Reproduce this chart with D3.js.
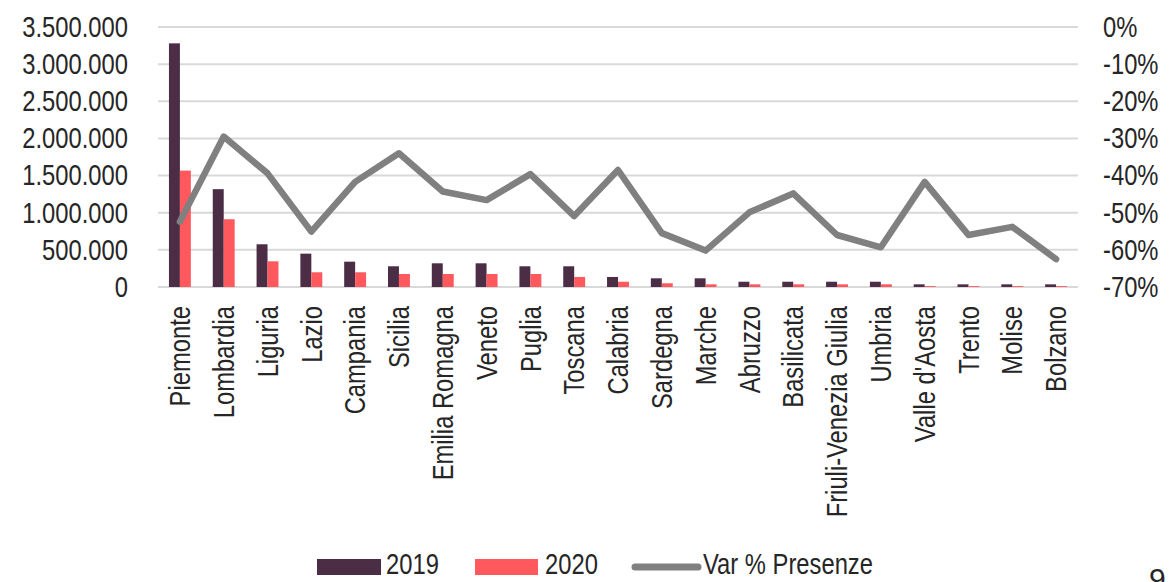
<!DOCTYPE html>
<html>
<head>
<meta charset="utf-8">
<script src="https://cdn.jsdelivr.net/npm/d3@7"></script>
<style>
  html, body { margin: 0; padding: 0; background: #ffffff; }
  svg { display: block; }
  text { font-family: "Liberation Sans", Arial, sans-serif; fill: #262626; }
</style>
</head>
<body>
<svg id="chart" width="1173" height="582"></svg>
<script>
const categories = ["Piemonte","Lombardia","Liguria","Lazio","Campania","Sicilia","Emilia Romagna","Veneto","Puglia","Toscana","Calabria","Sardegna","Marche","Abruzzo","Basilicata","Friuli-Venezia Giulia","Umbria","Valle d'Aosta","Trento","Molise","Bolzano"];
const values2019 = [3280000,1317000,575000,449000,341000,279000,319000,319000,279000,279000,135000,117000,117000,71000,71000,71000,71000,36000,36000,36000,36000];
const values2020 = [1567000,912000,346000,198000,198000,175000,175000,175000,175000,135000,71000,50000,36000,36000,36000,36000,36000,12000,12000,12000,12000];
const varPresenze = [-52.4,-29.5,-39.4,-55.1,-41.7,-34.0,-44.3,-46.6,-39.6,-50.9,-38.5,-55.5,-60.2,-49.9,-44.8,-56.0,-59.3,-41.7,-56.0,-53.8,-62.5];
const leftTicks = [0,500000,1000000,1500000,2000000,2500000,3000000,3500000];
const rightTicks = [0,-10,-20,-30,-40,-50,-60,-70];
const seriesNames = ["2019","2020","Var % Presenze"];

const colors = { c2019: "#4b2d45", c2020: "#ff585d", line: "#808080", grid: "#d9d9d9" };
const svg = d3.select("#chart");
const FS = 29;
const SX = 0.82; // horizontal condensing to mimic a narrow typeface

const x0 = 158, x1 = 1078, yTop = 27, yBot = 287;

const x = d3.scaleBand().domain(categories).range([x0, x1]).paddingInner(0.5).paddingOuter(0.25);
const xs = d3.scaleBand().domain(["2019","2020"]).range([0, x.bandwidth()]);
const yL = d3.scaleLinear().domain([0, 3500000]).range([yBot, yTop]);
const yR = d3.scaleLinear().domain([-70, 0]).range([yBot, yTop]);

const fmtIt = v => d3.format(",")(v).replace(/,/g, ".");

// gridlines
svg.append("g").selectAll("line").data(leftTicks).join("line")
  .attr("x1", x0).attr("x2", x1)
  .attr("y1", d => yL(d)).attr("y2", d => yL(d))
  .attr("stroke", colors.grid).attr("stroke-width", 2);

// left axis
const gL = svg.append("g").attr("transform", `translate(${x0},0)`)
  .call(d3.axisLeft(yL).tickValues(leftTicks).tickFormat(fmtIt).tickSize(0).tickPadding(30));
gL.select(".domain").remove();
gL.selectAll("text").attr("font-size", FS).attr("fill", "#262626")
  .attr("x", 0).attr("transform", `translate(-30,0) scale(${SX},1)`);

// right axis
const gR = svg.append("g").attr("transform", `translate(${x1},0)`)
  .call(d3.axisRight(yR).tickValues(rightTicks).tickFormat(d => d + "%").tickSize(0).tickPadding(25));
gR.select(".domain").remove();
gR.selectAll("text").attr("font-size", FS).attr("fill", "#262626")
  .attr("x", 0).attr("transform", `translate(25,0) scale(${SX},1)`);

// bars
const groups = svg.append("g").selectAll("g").data(categories).join("g")
  .attr("transform", d => `translate(${x(d)},0)`);
groups.append("rect")
  .attr("x", xs("2019")).attr("width", xs.bandwidth())
  .attr("y", (d, i) => yL(values2019[i])).attr("height", (d, i) => yBot - yL(values2019[i]))
  .attr("fill", colors.c2019);
groups.append("rect")
  .attr("x", xs("2020")).attr("width", xs.bandwidth())
  .attr("y", (d, i) => yL(values2020[i])).attr("height", (d, i) => yBot - yL(values2020[i]))
  .attr("fill", colors.c2020);

// line
const line = d3.line().x((d, i) => x(categories[i]) + x.bandwidth() / 2).y(d => yR(d));
svg.append("path").datum(varPresenze)
  .attr("d", line).attr("fill", "none")
  .attr("stroke", colors.line).attr("stroke-width", 6.5)
  .attr("stroke-linejoin", "round").attr("stroke-linecap", "round");

// x axis labels
const gX = svg.append("g").attr("transform", `translate(0,${yBot})`)
  .call(d3.axisBottom(x).tickSize(0).tickPadding(0));
gX.select(".domain").remove();
gX.selectAll("text")
  .attr("font-size", FS).attr("fill", "#262626")
  .attr("text-anchor", "end")
  .attr("x", 0).attr("y", 0).attr("dy", "0.35em")
  .attr("transform", `rotate(-90) translate(-19,0) scale(${SX},1)`);

// legend
const leg = svg.append("g");
const LY = 574;
function legText(xp, t) {
  leg.append("text").attr("font-size", FS)
    .attr("transform", `translate(${xp},${LY}) scale(${SX},1)`).text(t);
}
leg.append("rect").attr("x", 317).attr("y", LY - 15).attr("width", 64).attr("height", 16).attr("fill", colors.c2019);
legText(386, seriesNames[0]);
leg.append("rect").attr("x", 475).attr("y", LY - 15).attr("width", 63).attr("height", 16).attr("fill", colors.c2020);
legText(545, seriesNames[1]);
leg.append("line").attr("x1", 635).attr("x2", 698).attr("y1", LY - 7).attr("y2", LY - 7)
  .attr("stroke", colors.line).attr("stroke-width", 7).attr("stroke-linecap", "round");
legText(703, seriesNames[2]);

// page number (partly below the bottom edge, as in the source)
svg.append("text").attr("x", 1149).attr("y", 589).attr("font-size", 30)
  .attr("fill", "#000").text("9");
</script>
</body>
</html>
